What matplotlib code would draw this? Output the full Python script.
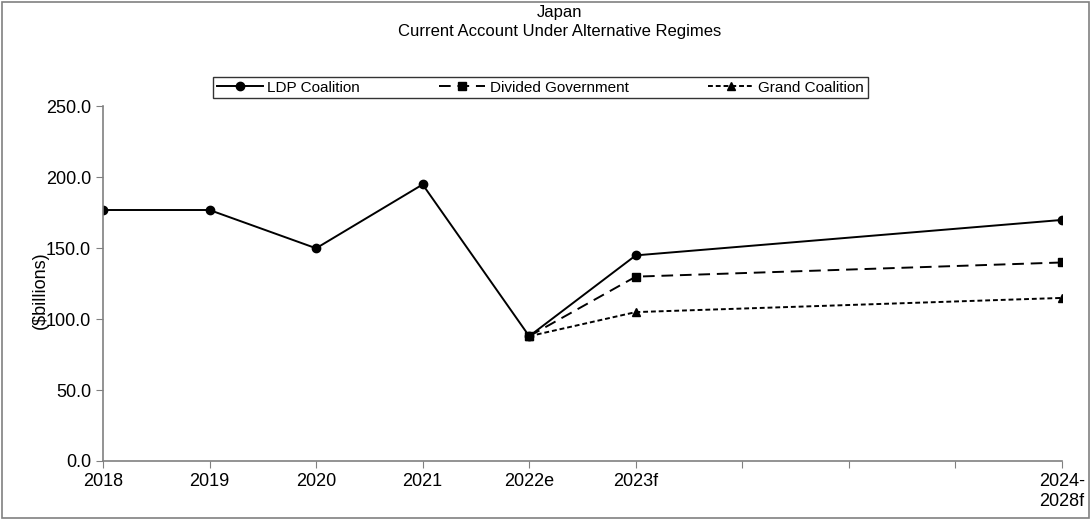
import numpy as np
import matplotlib.pyplot as plt
from matplotlib.patches import Rectangle

plt.rcParams['font.family'] = ['Liberation Sans', 'DejaVu Sans']

labels = ["2018", "2019", "2020", "2021", "2022e", "2023f", "", "", "", "2024-\n2028f"]
ldp = [177, 177, 150, 195, 88, 145, np.nan, np.nan, np.nan, 170]
divided = [np.nan, np.nan, np.nan, np.nan, 88, 130, np.nan, np.nan, np.nan, 140]
grand = [np.nan, np.nan, np.nan, np.nan, 88, 105, np.nan, np.nan, np.nan, 115]

fig = plt.figure(figsize=(10.91, 5.19), dpi=100)
ax = fig.add_axes([0.0944, 0.1118, 0.879, 0.683])

x = np.arange(len(labels))

def draw(vals, **kw):
    v = np.array(vals, dtype=float)
    ok = ~np.isnan(v)
    return ax.plot(x[ok], v[ok], color="black", **kw)

draw(ldp, lw=1.4, marker="o", ms=6, label="LDP Coalition")
draw(divided, lw=1.4, ls=(0, (6, 3.5)), marker="s", ms=6, label="Divided Government")
draw(grand, lw=1.4, ls=(0, (2.5, 1.5)), marker="^", ms=6, label="Grand Coalition")

ax.set_xlim(0, len(labels) - 1)
ax.set_ylim(0, 250)
ax.set_yticks(np.arange(0, 251, 50))
ax.set_yticklabels(["%.1f" % v for v in np.arange(0, 251, 50)])
ax.set_xticks(x)
ax.set_xticklabels(labels)
for s in ["top", "right"]:
    ax.spines[s].set_visible(False)
for s in ["left", "bottom"]:
    ax.spines[s].set_color("#808080")
    ax.spines[s].set_linewidth(1.2)
ax.tick_params(axis="both", colors="#808080", labelcolor="black", labelsize=13, length=5)
ax.tick_params(axis="x", pad=4)
ax.get_xticklabels()[-1].set_horizontalalignment("center")

fig.text(0.513, 0.99, "Japan\nCurrent Account Under Alternative Regimes",
         ha="center", va="top", fontsize=12, linespacing=1.3)
fig.text(0.037, 0.44, "($billions)", rotation=90, ha="center", va="center", fontsize=13)

leg = ax.legend(loc="lower left", bbox_to_anchor=(0.1147, 1.0226, 0.683, 0.059),
                mode="expand", ncol=3, frameon=True, borderaxespad=0,
                fancybox=False, edgecolor="black", fontsize=11, handlelength=3,
                handletextpad=0.3, columnspacing=2.6, borderpad=0.25)
leg.get_frame().set_linewidth(1.0)

fig.patches.append(Rectangle((0.002, 0.002), 0.996, 0.994, transform=fig.transFigure,
                             fill=False, edgecolor="#808080", lw=1.2))

fig.savefig("out.png", dpi=100)
